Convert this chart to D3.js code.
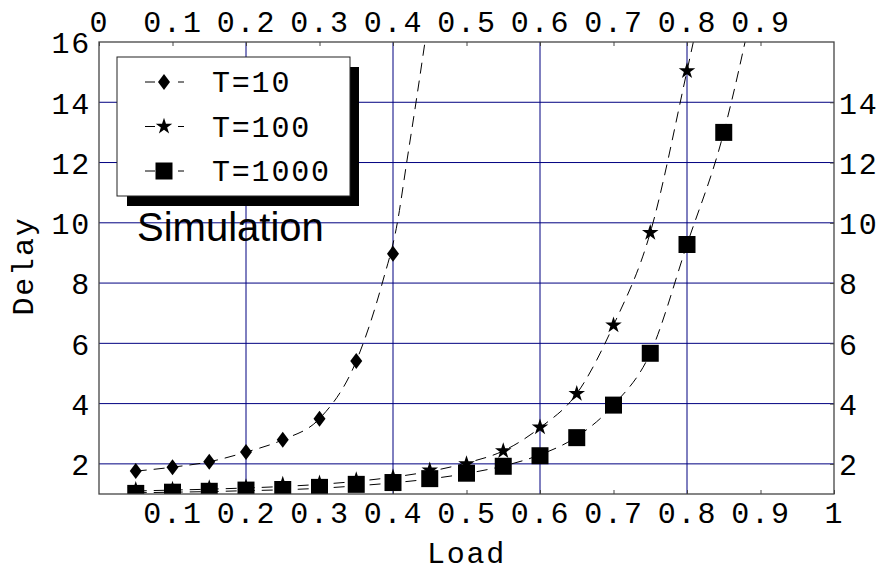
<!DOCTYPE html>
<html>
<head>
<meta charset="utf-8">
<script src="https://cdn.jsdelivr.net/npm/d3@7"></script>
<style>
  html, body { margin: 0; padding: 0; background: #fff; }
  #chart { width: 882px; height: 571px; }
  .mono { font-family: "Liberation Mono", "Courier New", monospace; font-size: 30px; letter-spacing: 1.8px; fill: #000; }
  .sans { font-family: "Liberation Sans", Arial, sans-serif; font-size: 40px; fill: #000; }
</style>
</head>
<body>
<div id="chart"></div>
<script>
// measured points (simulation markers)
const loadsT10 = [0.05, 0.1, 0.15, 0.2, 0.25, 0.3, 0.35, 0.4];
const delayT10 = [1.76, 1.89, 2.07, 2.39, 2.80, 3.50, 5.41, 8.97];

const loadsT100 = [0.05, 0.1, 0.15, 0.2, 0.25, 0.3, 0.35, 0.4, 0.45, 0.5, 0.55, 0.6, 0.65, 0.7, 0.75, 0.8];
const delayT100 = [1.14, 1.15, 1.20, 1.23, 1.32, 1.36, 1.47, 1.56, 1.79, 2.00, 2.43, 3.22, 4.33, 6.60, 9.67, 15.04];

const loadsT1000 = [0.05, 0.1, 0.15, 0.2, 0.25, 0.3, 0.35, 0.4, 0.45, 0.5, 0.55, 0.6, 0.65, 0.7, 0.75, 0.8, 0.85];
const delayT1000 = [1.02, 1.06, 1.09, 1.13, 1.15, 1.22, 1.32, 1.38, 1.51, 1.69, 1.92, 2.27, 2.87, 3.95, 5.67, 9.28, 13.0];

// dashed analytic curves
const curveLoadT10 = [0.05, 0.1, 0.15, 0.2, 0.25, 0.3, 0.35, 0.3854, 0.4059, 0.4186, 0.4313, 0.4435];
const curveDelayT10 = [1.76, 1.89, 2.07, 2.39, 2.80, 3.50, 5.41, 8, 10, 12, 14, 16];

const curveLoadT100 = [0.05, 0.1, 0.15, 0.2, 0.25, 0.3, 0.35, 0.4, 0.45, 0.5, 0.55, 0.6, 0.65, 0.7, 0.75, 0.8, 0.8086];
const curveDelayT100 = [1.10, 1.13, 1.16, 1.20, 1.25, 1.32, 1.42, 1.56, 1.75, 2.03, 2.43, 3.20, 4.33, 6.60, 9.67, 15.04, 16];

const curveLoadT1000 = [0.05, 0.1, 0.15, 0.2, 0.25, 0.3, 0.35, 0.4, 0.45, 0.5, 0.55, 0.6, 0.65, 0.7, 0.75, 0.8, 0.85, 0.8603, 0.879];
const curveDelayT1000 = [1.04, 1.06, 1.08, 1.11, 1.14, 1.19, 1.27, 1.37, 1.50, 1.68, 1.93, 2.30, 2.90, 3.95, 5.67, 9.28, 13.0, 14, 16];

// ticks
const xTicksBottom = [0.1, 0.2, 0.3, 0.4, 0.5, 0.6, 0.7, 0.8, 0.9, 1];
const xTicksTop = [0, 0.1, 0.2, 0.3, 0.4, 0.5, 0.6, 0.7, 0.8, 0.9];
const yTicksLeft = [2, 4, 6, 8, 10, 12, 14, 16];
const yTicksRight = [2, 4, 6, 8, 10, 12, 14];
const gridX = [0.2, 0.4, 0.6, 0.8];
const gridY = [2, 4, 6, 8, 10, 12, 14];
const legendLabels = ["T=10", "T=100", "T=1000"];

const width = 882, height = 571;
const plot = { left: 99, right: 834, top: 42, bottom: 494 };

const svg = d3.select("#chart").append("svg")
    .attr("width", width)
    .attr("height", height);

svg.append("rect").attr("width", width).attr("height", height).attr("fill", "#fff");

const x = d3.scaleLinear().domain([0, 1]).range([plot.left, plot.right]);
const y = d3.scaleLinear().domain([1, 16]).range([plot.bottom, plot.top]);

svg.append("clipPath").attr("id", "clip")
    .append("rect")
    .attr("x", plot.left).attr("y", plot.top)
    .attr("width", plot.right - plot.left).attr("height", plot.bottom - plot.top);

// grid
svg.append("g").selectAll("line").data(gridX).enter().append("line")
    .attr("x1", d => x(d)).attr("x2", d => x(d))
    .attr("y1", plot.top).attr("y2", plot.bottom)
    .attr("stroke", "#000080").attr("stroke-width", 1);
svg.append("g").selectAll("line").data(gridY).enter().append("line")
    .attr("x1", plot.left).attr("x2", plot.right)
    .attr("y1", d => y(d)).attr("y2", d => y(d))
    .attr("stroke", "#000080").attr("stroke-width", 1);

// axes
function styleAxis(a) {
    a.attr("font-size", null).attr("font-family", null).style("color", "#444");
    a.select(".domain").remove();
    a.selectAll("text").attr("class", "mono");
}

const fmt = d => String(d);

const axB = svg.append("g").attr("transform", `translate(0,${plot.bottom})`)
    .call(d3.axisBottom(x).tickValues(xTicksBottom).tickFormat(fmt).tickSizeInner(-4).tickSizeOuter(0));
styleAxis(axB);
axB.selectAll("text").attr("y", 29).attr("dy", null);

const axT = svg.append("g").attr("transform", `translate(0,${plot.top})`)
    .call(d3.axisTop(x).tickValues(xTicksTop).tickFormat(fmt).tickSizeInner(-4).tickSizeOuter(0));
styleAxis(axT);
axT.selectAll("text").attr("y", -10).attr("dy", null);

const axL = svg.append("g").attr("transform", `translate(${plot.left},0)`)
    .call(d3.axisLeft(y).tickValues(yTicksLeft).tickFormat(fmt).tickSizeInner(0).tickSizeOuter(0));
styleAxis(axL);
axL.selectAll("text").attr("x", -8).attr("dy", "0.36em");

const axR = svg.append("g").attr("transform", `translate(${plot.right},0)`)
    .call(d3.axisRight(y).tickValues(yTicksRight).tickFormat(fmt).tickSizeInner(-4).tickSizeOuter(0));
styleAxis(axR);
axR.selectAll("text").attr("x", 5).attr("dy", "0.36em");

// dashed curves
const line = d3.line().x(d => x(d[0])).y(d => y(d[1])).curve(d3.curveMonotoneX);
const curves = [
    d3.zip(curveLoadT10, curveDelayT10),
    d3.zip(curveLoadT100, curveDelayT100),
    d3.zip(curveLoadT1000, curveDelayT1000)
];
const marks = svg.append("g").attr("clip-path", "url(#clip)");
marks.selectAll(".curve").data(curves).enter().append("path")
    .attr("class", "curve")
    .attr("fill", "none")
    .attr("stroke", "#000")
    .attr("stroke-width", 1)
    .attr("stroke-dasharray", "11,7")
    .attr("d", line);

// marker shapes
const diamondPath = "M0,-8L6,0L0,8L-6,0Z";
const starPath = d3.symbol(d3.symbolStar, 85)();
const squarePath = d3.symbol(d3.symbolSquare, 289)();
const shapes = [diamondPath, starPath, squarePath];

const series = [
    d3.zip(loadsT10, delayT10),
    d3.zip(loadsT100, delayT100),
    d3.zip(loadsT1000, delayT1000)
];
series.forEach((pts, i) => {
    marks.append("g").selectAll("path").data(pts).enter().append("path")
        .attr("d", shapes[i])
        .attr("fill", "#000")
        .attr("transform", d => `translate(${x(d[0])},${y(d[1])})`);
});

// frame
svg.append("rect")
    .attr("x", plot.left).attr("y", plot.top)
    .attr("width", plot.right - plot.left).attr("height", plot.bottom - plot.top)
    .attr("fill", "none").attr("stroke", "#444").attr("stroke-width", 1.3);

// axis titles
svg.append("text").attr("class", "mono")
    .attr("x", (plot.left + plot.right) / 2).attr("y", 563)
    .attr("text-anchor", "middle")
    .text("Load");
svg.append("text").attr("class", "mono")
    .attr("transform", "translate(33,266) rotate(-90)")
    .attr("text-anchor", "middle")
    .text("Delay");

// legend
const legend = svg.append("g");
legend.append("rect").attr("x", 127).attr("y", 67).attr("width", 232).attr("height", 139).attr("fill", "#000");
legend.append("rect").attr("x", 117).attr("y", 57).attr("width", 233).attr("height", 139)
    .attr("fill", "#fff").attr("stroke", "#222").attr("stroke-width", 1);

const rows = legend.selectAll(".row").data(legendLabels).enter().append("g")
    .attr("class", "row")
    .attr("transform", (d, i) => `translate(0,${82 + i * 44.5})`);
rows.append("line")
    .attr("x1", 145).attr("x2", 184).attr("y1", 0).attr("y2", 0)
    .attr("stroke", "#000").attr("stroke-width", 1)
    .attr("stroke-dasharray", "10,23,6");
rows.append("path")
    .attr("d", (d, i) => shapes[i])
    .attr("fill", "#000")
    .attr("transform", "translate(164,0)");
rows.append("text").attr("class", "mono")
    .attr("x", 212).attr("y", 10)
    .text(d => d);

svg.append("text").attr("class", "sans")
    .attr("x", 137).attr("y", 241)
    .text("Simulation");
</script>
</body>
</html>
